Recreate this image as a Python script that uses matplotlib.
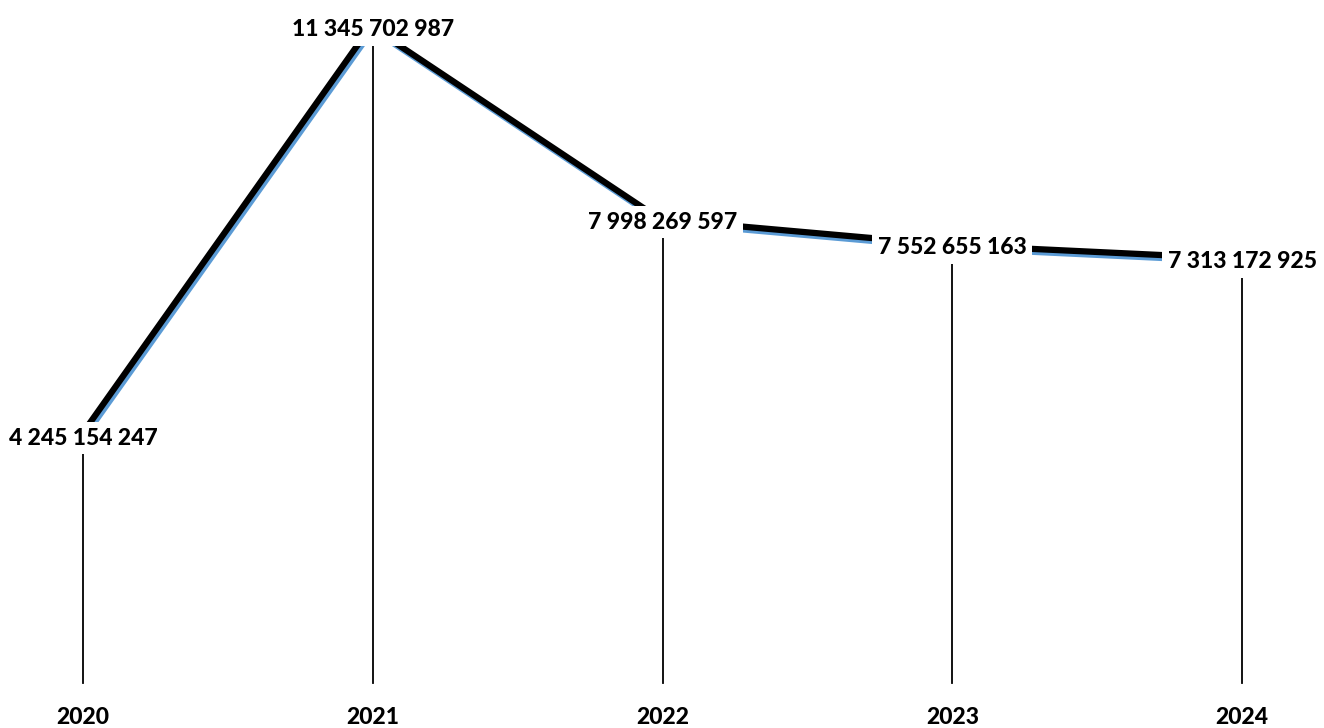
import matplotlib
matplotlib.use("Agg")
import matplotlib.pyplot as plt
import matplotlib.transforms as mtransforms

years = ["2020", "2021", "2022", "2023", "2024"]
values = [4245154247, 11345702987, 7998269597, 7552655163, 7313172925]
labels = ["4 245 154 247", "11 345 702 987", "7 998 269 597", "7 552 655 163", "7 313 172 925"]

fig = plt.figure(figsize=(13.24, 7.28), dpi=100)
ax = fig.add_axes([0, 0, 1, 1])
ax.set_axis_off()

xs = list(range(len(years)))
ax.set_xlim(-0.2865, 4.283)
ax.set_ylim(-0.781e9, 11.858e9)

font = dict(family=["Lato", "DejaVu Sans"], weight="black", size=16.5)

# drop lines
for x, v in zip(xs, values):
    ax.plot([x, x], [0, v], color="black", lw=1.3, zorder=1)

# blue line and black offset line
ax.plot(xs, values, color="#5B9BD5", lw=4.5, solid_capstyle="butt", zorder=2)
off = mtransforms.offset_copy(ax.transData, fig=fig, x=-2, y=3, units="dots")
ax.plot(xs, values, color="black", lw=4.5, solid_capstyle="butt", transform=off, zorder=3)

# value labels
for x, v, t in zip(xs, values, labels):
    ax.text(x, v, t, ha="center", va="center", zorder=5,
            bbox=dict(facecolor="white", edgecolor="none", pad=4), **font)

# year labels
for x, y in zip(xs, years):
    ax.annotate(y, xy=(x, 0), xycoords="data", xytext=(0, -34), textcoords="offset pixels",
                ha="center", va="center", **font)

fig.savefig("out.png", dpi=100)
